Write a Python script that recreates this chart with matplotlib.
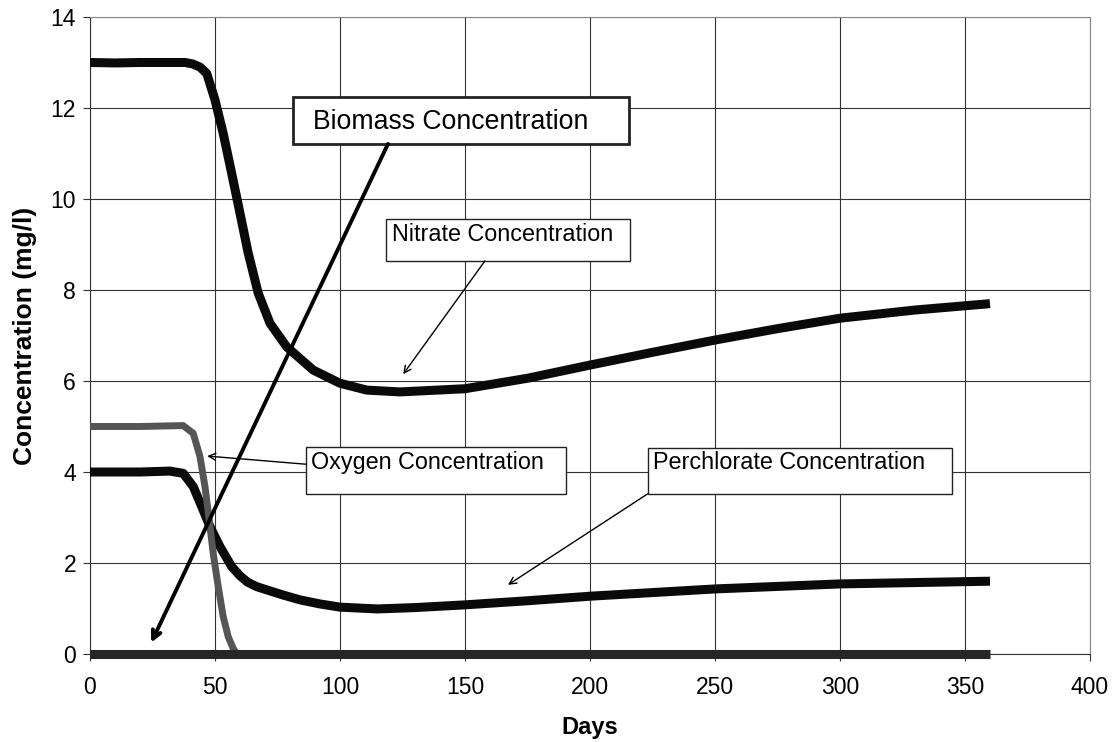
import matplotlib
matplotlib.use("Agg")
import matplotlib.pyplot as plt
from matplotlib.patches import Rectangle

plt.rcParams["font.family"] = ["Liberation Sans", "DejaVu Sans"]

# ─── Data ──────────────────────────────────────────────────────────────────────
nitrate_days = [0, 10, 20, 30, 38, 41, 44, 46.7, 50, 53.3, 56.7, 60, 63.3, 67.3,
                72, 78.7, 89.3, 100, 110.7, 124, 150, 175, 200, 225, 250, 275,
                300, 330, 360]
nitrate_conc = [13.0, 12.99, 13.0, 13.0, 13.0, 12.97, 12.9, 12.76, 12.18, 11.44,
                10.56, 9.69, 8.81, 7.93, 7.27, 6.75, 6.24, 5.95, 5.8, 5.76, 5.83,
                6.06, 6.35, 6.63, 6.9, 7.15, 7.38, 7.56, 7.7]

perchlorate_days = [0, 20, 32, 37.3, 41.3, 44.7, 48, 52, 56.7, 60, 63, 66.7, 70.7,
                    77, 84, 92, 100, 115, 130, 150, 175, 200, 250, 300, 360]
perchlorate_conc = [4.0, 4.0, 4.02, 3.97, 3.68, 3.24, 2.8, 2.36, 1.92, 1.72, 1.58,
                    1.48, 1.41, 1.3, 1.19, 1.1, 1.03, 0.99, 1.02, 1.08, 1.17, 1.27,
                    1.43, 1.54, 1.6]

oxygen_days = [0, 20, 37.3, 41.3, 44, 46, 47.7, 49.3, 51.3, 53.3, 55.3, 57.3, 58.7]
oxygen_conc = [5.0, 5.0, 5.02, 4.85, 4.34, 3.68, 2.95, 2.21, 1.48, 0.82, 0.38,
               0.12, 0.0]

biomass_days = [0, 360]
biomass_conc = [0.0, 0.0]

x_ticks = [0, 50, 100, 150, 200, 250, 300, 350, 400]
y_ticks = [0, 2, 4, 6, 8, 10, 12, 14]

# ─── Plot ──────────────────────────────────────────────────────────────────────
fig = plt.figure(figsize=(11.12, 7.42), dpi=100)
ax = fig.add_axes([0.0809, 0.1186, 0.8993, 0.8585])

ax.set_xlim(0, 400)
ax.set_ylim(0, 14)
ax.set_xticks(x_ticks)
ax.set_yticks(y_ticks)
ax.grid(True, color="#333333", linewidth=0.8, zorder=0)
ax.set_axisbelow(True)
ax.tick_params(direction="out", length=5, width=0.8, color="#333333",
               labelsize=16.5)
ax.tick_params(axis="x", pad=11)
ax.tick_params(axis="y", pad=5)
for side in ("top", "right"):
    ax.spines[side].set_color("#888888")
for side in ("left", "bottom"):
    ax.spines[side].set_color("#333333")

line_kw = dict(solid_capstyle="butt", solid_joinstyle="round")
ax.plot(nitrate_days, nitrate_conc, color="#0a0a0a", linewidth=6.5, zorder=3, **line_kw)
ax.plot(perchlorate_days, perchlorate_conc, color="#0a0a0a", linewidth=6.5, zorder=3, **line_kw)
ax.plot(oxygen_days, oxygen_conc, color="#555555", linewidth=5, zorder=3, **line_kw)
ax.plot(biomass_days, biomass_conc, color="#262626", linewidth=6.5, zorder=4,
        clip_on=False, **line_kw)

ax.set_xlabel("Days", fontsize=17, fontweight="bold", labelpad=12)
ax.set_ylabel("Concentration (mg/l)", fontsize=19, fontweight="bold", labelpad=10)

# ─── Callout boxes ─────────────────────────────────────────────────────────────
def callout(label, box, text_xy, tip, start, size, box_lw=1.0, arrow_lw=1.0,
            head=(0.5, 0.25)):
    x0, x1, y0, y1 = box
    ax.add_patch(Rectangle((x0, y0), x1 - x0, y1 - y0, facecolor="white",
                           edgecolor="#222222", linewidth=box_lw, zorder=5))
    ax.text(text_xy[0], text_xy[1], label, fontsize=size, va="center",
            ha="left", zorder=6)
    ax.annotate("", xy=tip, xytext=start, zorder=7,
                arrowprops=dict(arrowstyle=f"->,head_length={head[0]},head_width={head[1]}",
                                color="black", lw=arrow_lw,
                                shrinkA=0, shrinkB=0))

callout("Biomass Concentration", (81.2, 215.6, 11.21, 12.24), (89.2, 11.7),
        (24.5, 0.25), (119.2, 11.21), 19.2, box_lw=2.0, arrow_lw=2.8,
        head=(0.6, 0.3))
callout("Nitrate Concentration", (118.4, 216.0, 8.64, 9.55), (120.8, 9.22),
        (125.3, 6.15), (158.0, 8.64), 16.8)
callout("Oxygen Concentration", (86.4, 190.3, 3.52, 4.54), (88.4, 4.2),
        (46.9, 4.35), (86.6, 4.17), 16.8)
callout("Perchlorate Concentration", (223.1, 344.9, 3.52, 4.53), (225.1, 4.2),
        (167.2, 1.52), (223.1, 3.52), 16.8)

fig.savefig("out.png", dpi=100)
